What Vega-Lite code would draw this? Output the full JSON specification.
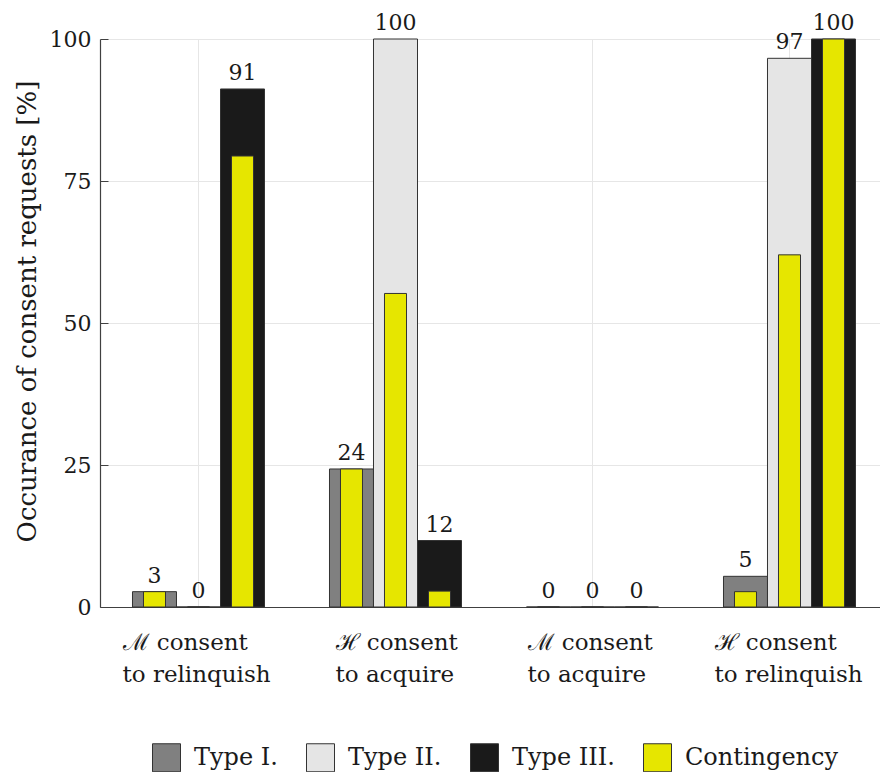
{
  "$schema": "https://vega.github.io/schema/vega-lite/v6.json",
  "width": 788,
  "height": 568,
  "autosize": "none",
  "padding": {"left": 100, "top": 39, "right": 0, "bottom": 165},
  "background": "white",
  "config": {
    "font": "DejaVu Serif",
    "view": {"stroke": null},
    "axis": {"labelFont": "DejaVu Serif", "titleFont": "DejaVu Serif", "labelColor": "#1a1a1a", "titleColor": "#1a1a1a"},
    "legend": {"labelFont": "DejaVu Serif"}
  },
  "resolve": {"scale": {"xOffset": "independent"}},
  "data": {
    "values": [
      {"group": "ℳ consent|to relinquish", "type": "Type I.", "value": 2.7, "cont": 2.7},
      {"group": "ℳ consent|to relinquish", "type": "Type II.", "value": 0, "cont": 0},
      {"group": "ℳ consent|to relinquish", "type": "Type III.", "value": 91.2, "cont": 79.4},
      {"group": "ℋ consent|to acquire", "type": "Type I.", "value": 24.3, "cont": 24.3},
      {"group": "ℋ consent|to acquire", "type": "Type II.", "value": 100, "cont": 55.2},
      {"group": "ℋ consent|to acquire", "type": "Type III.", "value": 11.7, "cont": 2.8},
      {"group": "ℳ consent|to acquire", "type": "Type I.", "value": 0, "cont": 0},
      {"group": "ℳ consent|to acquire", "type": "Type II.", "value": 0, "cont": 0},
      {"group": "ℳ consent|to acquire", "type": "Type III.", "value": 0, "cont": 0},
      {"group": "ℋ consent|to relinquish", "type": "Type I.", "value": 5.4, "cont": 2.7},
      {"group": "ℋ consent|to relinquish", "type": "Type II.", "value": 96.6, "cont": 62.0},
      {"group": "ℋ consent|to relinquish", "type": "Type III.", "value": 100, "cont": 100}
    ]
  },
  "encoding": {
    "x": {
      "field": "group",
      "type": "nominal",
      "sort": null,
      "scale": {"paddingInner": 0, "paddingOuter": 0},
      "axis": {
        "title": null,
        "labelExpr": "split(datum.value, '|')",
        "labelAngle": 0,
        "labelAlign": "left",
        "labelBaseline": "top",
        "labelFontSize": 23,
        "labelLineHeight": 32,
        "labelPadding": 24,
        "labelOffset": {
          "condition": [
            {"test": "datum.value === 'ℳ consent|to relinquish'", "value": -76},
            {"test": "datum.value === 'ℋ consent|to acquire'", "value": -60},
            {"test": "datum.value === 'ℳ consent|to acquire'", "value": -65}
          ],
          "value": -75
        },
        "ticks": false,
        "domainColor": "#404040",
        "domainWidth": 1.2,
        "grid": true,
        "gridColor": "#e6e6e6",
        "bandPosition": 0.5
      }
    }
  },
  "layer": [
    {
      "mark": {"type": "bar", "stroke": "#333333", "strokeWidth": 1},
      "encoding": {
        "xOffset": {
          "field": "type",
          "type": "nominal",
          "sort": ["Type I.", "Type II.", "Type III."],
          "scale": {"paddingInner": 0, "paddingOuter": 0.7386}
        },
        "y": {
          "field": "value",
          "type": "quantitative",
          "scale": {"domain": [0, 100], "nice": false},
          "axis": {
            "title": "Occurance of consent requests [%]",
            "titleFontSize": 26,
            "titleFontWeight": "normal",
            "titlePadding": 9,
            "titleY": 272,
            "values": [0, 25, 50, 75, 100],
            "labelFontSize": 22,
            "labelPadding": 17,
            "tickSize": -8,
            "tickColor": "#404040",
            "domainColor": "#404040",
            "domainWidth": 1.2,
            "grid": true,
            "gridColor": "#e6e6e6"
          }
        },
        "color": {
          "field": "type",
          "type": "nominal",
          "scale": {
            "domain": ["Type I.", "Type II.", "Type III.", "Contingency"],
            "range": ["#808080", "#e5e5e5", "#1a1a1a", "#e6e600"]
          },
          "legend": {
            "title": null,
            "orient": "none",
            "legendX": 52,
            "legendY": 704,
            "direction": "horizontal",
            "symbolType": "square",
            "symbolSize": 784,
            "symbolStrokeColor": "#333333",
            "symbolStrokeWidth": 1,
            "symbolOpacity": 1,
            "labelFontSize": 24,
            "labelColor": "#1a1a1a",
            "labelOffset": 13,
            "columnPadding": 26
          }
        }
      }
    },
    {
      "mark": {"type": "bar", "stroke": "#333333", "strokeWidth": 1},
      "encoding": {
        "xOffset": {
          "field": "type",
          "type": "nominal",
          "sort": ["Type I.", "Type II.", "Type III."],
          "scale": {"paddingInner": 0.5, "paddingOuter": 0.9886}
        },
        "y": {"field": "cont", "type": "quantitative"},
        "color": {"datum": "Contingency"}
      }
    },
    {
      "mark": {"type": "text", "fontSize": 22, "color": "#1a1a1a", "baseline": "alphabetic", "dy": -9},
      "encoding": {
        "xOffset": {
          "field": "type",
          "type": "nominal",
          "sort": ["Type I.", "Type II.", "Type III."],
          "scale": {"type": "band", "paddingInner": 0, "paddingOuter": 0.7386}
        },
        "y": {"field": "value", "type": "quantitative"},
        "text": {"field": "value", "type": "quantitative", "format": ".0f"}
      }
    }
  ]
}
